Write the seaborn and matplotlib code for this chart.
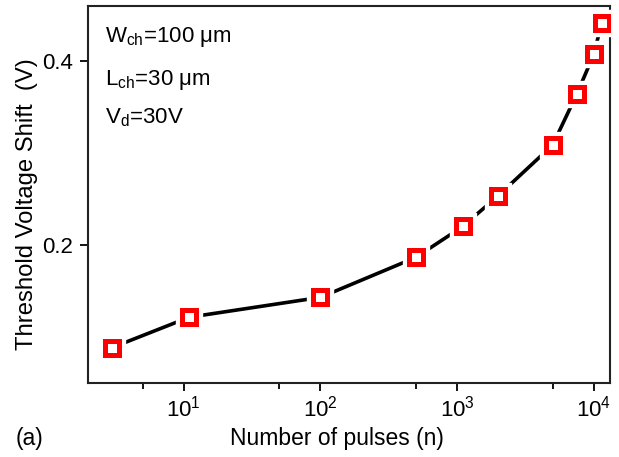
import matplotlib
matplotlib.use("Agg")
import matplotlib.pyplot as plt
import seaborn as sns
import pandas as pd
from matplotlib.ticker import FixedLocator, NullFormatter

# Threshold voltage shift versus number of stress pulses
pulses = [3, 11, 100, 500, 1100, 2000, 5000, 7500, 10000, 11400]
vth_shift = [0.089, 0.122, 0.1435, 0.187, 0.2205, 0.254, 0.309, 0.364, 0.4075, 0.441]
x_major = [10, 100, 1000, 10000]
x_minor = [5, 50, 500, 5000]
y_ticks = [0.2, 0.4]
y_tick_labels = ["0.2", "0.4"]

df = pd.DataFrame({"n": pulses, "dVth": vth_shift})

sns.set_theme(style="white")
plt.rcParams["font.family"] = ["Liberation Sans", "DejaVu Sans"]
plt.rcParams["text.color"] = "black"
plt.rcParams["axes.labelcolor"] = "black"
plt.rcParams["mathtext.fontset"] = "custom"
plt.rcParams["mathtext.rm"] = "Liberation Sans"
plt.rcParams["mathtext.it"] = "Liberation Sans:italic"

fig = plt.figure(figsize=(6.19, 4.57), dpi=100)
ax = fig.add_axes([88 / 619, 1 - 383 / 457, (609.5 - 88) / 619, (383 - 6) / 457])

# connecting line
sns.lineplot(data=df, x="n", y="dVth", ax=ax, color="black", linewidth=2.6,
             zorder=2, legend=False)
# white halo leaves a gap between line and symbols
ax.plot(df["n"], df["dVth"], linestyle="none", marker="s", markersize=19,
        markerfacecolor="white", markeredgecolor="white", zorder=3)
# hollow red square symbols
ax.plot(df["n"], df["dVth"], linestyle="none", marker="s", markersize=10,
        markerfacecolor="white", markeredgecolor="#ff0000",
        markeredgewidth=3.6, zorder=4)

ax.set_xscale("log")
ax.set_xlim(10 ** 0.30, 10 ** 4.115)
ax.set_ylim(0.0505, 0.46)

ax.xaxis.set_major_locator(FixedLocator(x_major))
ax.xaxis.set_minor_locator(FixedLocator(x_minor))
ax.xaxis.set_minor_formatter(NullFormatter())
ax.set_yticks(y_ticks)
ax.set_yticklabels(y_tick_labels)

ax.tick_params(axis="both", which="major", direction="out", length=6, width=1.3,
               labelsize=16, color="black", labelcolor="black",
               bottom=True, left=True, top=False, right=False)
ax.tick_params(axis="y", which="major", pad=5)
ax.tick_params(axis="x", which="major", pad=3)
ax.tick_params(axis="x", which="minor", direction="out", length=4, width=1.3,
               color="black", bottom=True)

for s in ax.spines.values():
    s.set_visible(True)
    s.set_color("#222222")
    s.set_linewidth(1.5)

ax.set_xlabel("Number of pulses (n)", fontsize=16.5, color="black")
ax.set_ylabel("Threshold Voltage Shift  (V)", fontsize=17.2, color="black")
ax.xaxis.set_label_coords(0.477, -0.146)
ax.yaxis.set_label_coords(-0.117, 0.475)
ax.xaxis.label.set_va("center")
ax.yaxis.label.set_va("center")

ax.text(0.033, 0.918, r"W$_{\rm ch}$=100 μm", transform=ax.transAxes,
        fontsize=16, va="center", ha="left", color="black")
ax.text(0.033, 0.804, r"L$_{\rm ch}$=30 μm", transform=ax.transAxes,
        fontsize=16, va="center", ha="left", color="black")
ax.text(0.033, 0.703, r"V$_{\rm d}$=30V", transform=ax.transAxes,
        fontsize=16, va="center", ha="left", color="black")

fig.text(16 / 619, 1 - 438 / 457, "(a)", fontsize=16.5, va="center", ha="left",
         color="black")

fig.savefig("out.png", dpi=100, facecolor="white")
